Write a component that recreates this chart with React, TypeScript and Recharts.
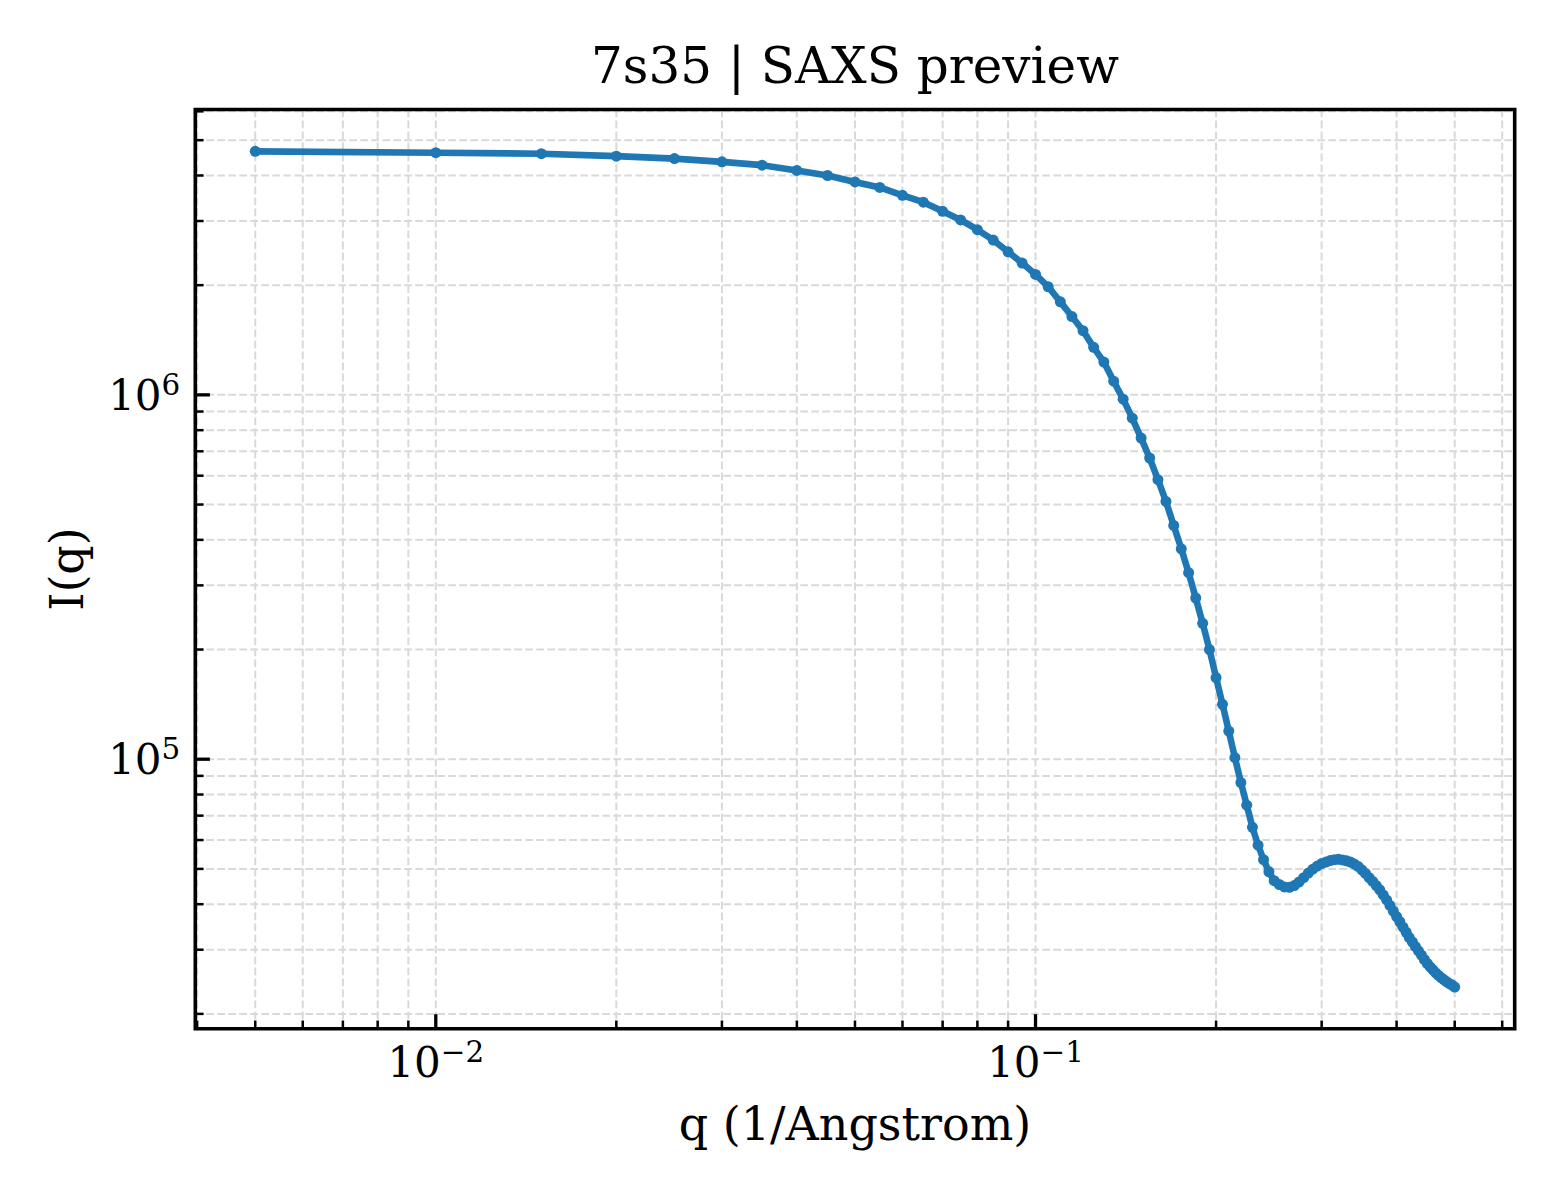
import React from 'react';
import { LineChart, Line, XAxis, YAxis, CartesianGrid, ReferenceArea } from 'recharts';

// q in 1/Angstrom, I(q)
const qValues = [
  0.005, 0.01, 0.015, 0.02, 0.025, 0.03, 0.035, 0.04, 0.045, 0.05,
  0.055, 0.06, 0.065, 0.07, 0.075, 0.08, 0.085, 0.09, 0.095, 0.1,
  0.105, 0.11, 0.115, 0.12, 0.125, 0.13, 0.135, 0.14, 0.145, 0.15,
  0.155, 0.16, 0.165, 0.17, 0.175, 0.18, 0.185, 0.19, 0.195, 0.2,
  0.205, 0.21, 0.215, 0.22, 0.225, 0.23, 0.235, 0.24, 0.245, 0.25,
  0.255, 0.26, 0.265, 0.27, 0.275, 0.28, 0.285, 0.29, 0.295, 0.3,
  0.305, 0.31, 0.315, 0.32, 0.325, 0.33, 0.335, 0.34, 0.345, 0.35,
  0.355, 0.36, 0.365, 0.37, 0.375, 0.38, 0.385, 0.39, 0.395, 0.4,
  0.405, 0.41, 0.415, 0.42, 0.425, 0.43, 0.435, 0.44, 0.445, 0.45,
  0.455, 0.46, 0.465, 0.47, 0.475, 0.48, 0.485, 0.49, 0.495, 0.5,
];

const intensity = [
  4.66e6, 4.62e6, 4.59e6, 4.52e6, 4.45e6, 4.36e6, 4.27e6, 4.13e6, 4.0e6, 3.84e6,
  3.71e6, 3.53e6, 3.38e6, 3.19e6, 3.02e6, 2.84e6, 2.66e6, 2.47e6, 2.3e6, 2.14e6,
  1.98e6, 1.8e6, 1.64e6, 1.5e6, 1.35e6, 1.23e6, 1.09e6, 9.73e5, 8.63e5, 7.61e5,
  6.71e5, 5.85e5, 5.1e5, 4.38e5, 3.78e5, 3.25e5, 2.77e5, 2.36e5, 2.0e5, 1.675e5,
  1.415e5, 1.195e5, 1.01e5, 8.63e4, 7.48e4, 6.5e4, 5.81e4, 5.3e4, 4.91e4, 4.64e4,
  4.53e4, 4.46e4, 4.45e4, 4.5e4, 4.6e4, 4.73e4, 4.87e4, 4.99e4, 5.09e4, 5.17e4,
  5.22e4, 5.27e4, 5.3e4, 5.31e4, 5.29e4, 5.26e4, 5.22e4, 5.16e4, 5.08e4, 4.97e4,
  4.86e4, 4.73e4, 4.62e4, 4.5e4, 4.38e4, 4.24e4, 4.11e4, 3.97e4, 3.83e4, 3.7e4,
  3.58e4, 3.46e4, 3.35e4, 3.24e4, 3.15e4, 3.06e4, 2.98e4, 2.9e4, 2.82e4, 2.75e4,
  2.69e4, 2.64e4, 2.59e4, 2.55e4, 2.51e4, 2.48e4, 2.45e4, 2.42e4, 2.4e4, 2.37e4,
];

const xMajorTicks = [0.01, 0.1];
const xMajorExp = ['\u22122', '\u22121'];
const xMinorTicks = [
  0.004, 0.005, 0.006, 0.007, 0.008, 0.009,
  0.02, 0.03, 0.04, 0.05, 0.06, 0.07, 0.08, 0.09,
  0.2, 0.3, 0.4, 0.5, 0.6,
];
const yMajorTicks = [1e5, 1e6];
const yMajorExp = ['5', '6'];
const yMinorTicks = [
  2e4, 3e4, 4e4, 5e4, 6e4, 7e4, 8e4, 9e4,
  2e5, 3e5, 4e5, 5e5, 6e5, 7e5, 8e5, 9e5,
  2e6, 3e6, 4e6, 5e6, 6e6,
];

const xDomain = [0.003972, 0.6295];
const yDomain = [18200, 6.07e6];

const rows = qValues.map((q, i) => ({ q, I: intensity[i] }));

const FONT = '"DejaVu Serif", serif';

function XTick({ x, y, payload }: any) {
  const i = xMajorTicks.indexOf(payload.value);
  if (i < 0) {
    return <line x1={x} x2={x} y1={y} y2={y - 8.3} stroke="#000" strokeWidth={2.5} />;
  }
  return (
    <g>
      <line x1={x} x2={x} y1={y} y2={y - 14.6} stroke="#000" strokeWidth={3.3} />
      <text x={x} y={y + 48} textAnchor="middle" fontSize={42} fontFamily={FONT} fill="#000">
        <tspan>10</tspan>
        <tspan dy={-15} fontSize={29.4}>{xMajorExp[i]}</tspan>
      </text>
    </g>
  );
}

function YTick({ x, y, payload }: any) {
  const i = yMajorTicks.indexOf(payload.value);
  if (i < 0) {
    return <line x1={x} x2={x + 8.3} y1={y} y2={y} stroke="#000" strokeWidth={2.5} />;
  }
  return (
    <g>
      <line x1={x} x2={x + 14.6} y1={y} y2={y} stroke="#000" strokeWidth={3.3} />
      <text x={x - 15} y={y + 15} textAnchor="end" fontSize={42} fontFamily={FONT} fill="#000">
        <tspan>10</tspan>
        <tspan dy={-15} fontSize={29.4}>{yMajorExp[i]}</tspan>
      </text>
    </g>
  );
}

export default function App() {
  return (
    <div style={{ position: 'absolute', left: 0, top: 0, width: 1560, height: 1200, background: '#fff', fontFamily: FONT }}>
      <LineChart
        width={1560}
        height={1200}
        data={rows}
        margin={{ top: 109.5, right: 45.3, bottom: 111.2, left: 115.3 }}
      >
        <CartesianGrid stroke="#d9d9d9" strokeWidth={2} strokeDasharray="7.7 3.3" />
        <XAxis
          dataKey="q"
          type="number"
          scale="log"
          domain={xDomain}
          allowDataOverflow
          ticks={[...xMinorTicks, ...xMajorTicks].sort((a, b) => a - b)}
          interval={0}
          height={60}
          tickSize={0}
          tickMargin={0}
          axisLine={false}
          tickLine={false}
          tick={(p: any) => <XTick {...p} />}
        />
        <YAxis
          type="number"
          scale="log"
          domain={yDomain}
          allowDataOverflow
          ticks={[...yMinorTicks, ...yMajorTicks].sort((a, b) => a - b)}
          interval={0}
          width={80}
          tickSize={0}
          tickMargin={0}
          axisLine={false}
          tickLine={false}
          tick={(p: any) => <YTick {...p} />}
        />
        <Line
          dataKey="I"
          type="linear"
          stroke="#1f77b4"
          strokeWidth={6.6}
          strokeLinejoin="round"
          dot={{ r: 5.5, fill: '#1f77b4', stroke: 'none' }}
          isAnimationActive={false}
        />
        <ReferenceArea
          x1={xDomain[0]}
          x2={xDomain[1]}
          y1={yDomain[0]}
          y2={yDomain[1]}
          fill="none"
          stroke="#000"
          strokeWidth={3.6}
          ifOverflow="visible"
        />
      </LineChart>
      <svg
        width={1560}
        height={1200}
        style={{ position: 'absolute', left: 0, top: 0, pointerEvents: 'none' }}
      >
        <text x={855} y={83} textAnchor="middle" fontSize={50} fontFamily={FONT} fill="#000">
          7s35 | SAXS preview
        </text>
        <text x={855} y={1140} textAnchor="middle" fontSize={46} fontFamily={FONT} fill="#000">
          q (1/Angstrom)
        </text>
        <text
          transform="translate(83,569) rotate(-90)"
          textAnchor="middle"
          fontSize={46}
          fontFamily={FONT}
          fill="#000"
        >
          I(q)
        </text>
      </svg>
    </div>
  );
}
